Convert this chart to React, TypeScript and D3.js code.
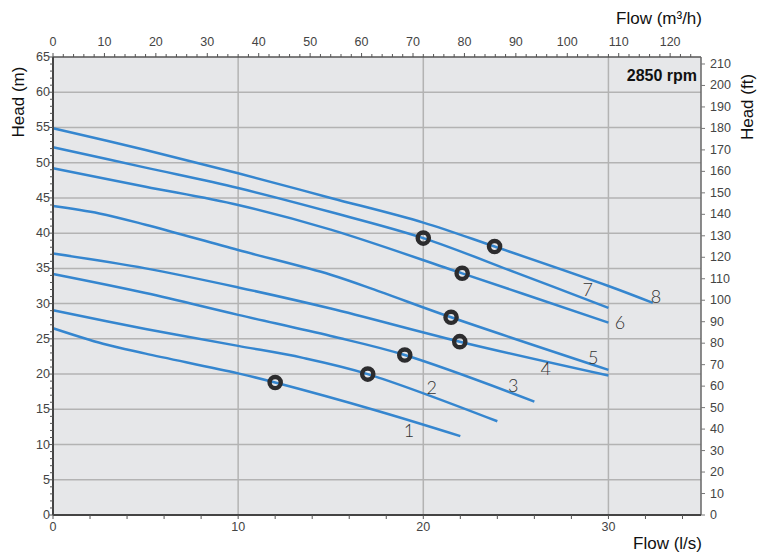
import React from "react";
import * as d3 from "d3";

const curveNames = ["1", "2", "3", "4", "5", "6", "7", "8"];
const flow1 = [0, 2.7, 5, 10, 12, 17.5, 22];
const head1 = [26.5, 24.3, 22.9, 20.1, 18.8, 14.8, 11.2];
const flow2 = [0, 5, 10, 13.5, 17, 24];
const head2 = [29.05, 26.4, 24.0, 22.3, 20.0, 13.3];
const flow3 = [0, 5, 10, 15, 19, 26];
const head3 = [34.2, 31.5, 28.4, 25.4, 22.7, 16.1];
const flow4 = [0, 5, 10, 15, 21.97, 30];
const head4 = [37.1, 35.0, 32.3, 29.3, 24.6, 19.8];
const flow5 = [0, 2.5, 5, 10, 15, 17.65, 21.5, 30];
const head5 = [43.85, 42.8, 41.2, 37.6, 34.1, 31.7, 28.06, 20.6];
const flow6 = [0, 5, 10, 15, 22.1, 30];
const head6 = [49.2, 46.6, 44.0, 40.5, 34.3, 27.3];
const flow7 = [0, 5, 10, 15, 20, 25, 30];
const head7 = [52.2, 49.3, 46.4, 43.0, 39.3, 34.4, 29.4];
const flow8 = [0, 5, 10, 15, 20, 23.85, 30, 32.4];
const head8 = [54.9, 51.8, 48.5, 45.0, 41.5, 38.1, 32.5, 30.1];

const curveFlows = [flow1, flow2, flow3, flow4, flow5, flow6, flow7, flow8];
const curveHeads = [head1, head2, head3, head4, head5, head6, head7, head8];

const dutyFlow = [12.0, 17.0, 19.0, 21.97, 21.5, 22.1, 20.0, 23.85];
const dutyHead = [18.8, 20.0, 22.7, 24.6, 28.06, 34.3, 39.3, 38.1];

const labelFlow = [19.23, 20.45, 24.86, 26.61, 29.18, 30.63, 28.88, 32.57];
const labelHead = [12.06, 18.21, 18.45, 20.82, 22.47, 27.43, 32.03, 31.12];

const flowMax = 35;
const headMax = 65;
const M3H_PER_LS = 3.6;
const FT_PER_M = 3.28084;
const bottomTicks = d3.range(0, 36, 2);
const bottomLabels = [0, 10, 20, 30];
const topTicks = d3.range(0, 126, 2);
const topLabels = d3.range(0, 121, 10);
const leftMinor = d3.range(0, 66, 1);
const leftLabels = d3.range(0, 66, 5);
const rightLabels = d3.range(0, 211, 10);
const vGrid = [10, 20, 30];
const hGrid = d3.range(5, 61, 5);

const L = 53, R = 701, T = 57, B = 515;

export default function App() {
  const x = d3.scaleLinear().domain([0, flowMax]).range([L, R]);
  const y = d3.scaleLinear().domain([0, headMax]).range([B, T]);
  const xTop = d3.scaleLinear().domain([0, flowMax * M3H_PER_LS]).range([L, R]);
  const yFt = d3.scaleLinear().domain([0, headMax * FT_PER_M]).range([B, T]);

  const line = d3
    .line<[number, number]>()
    .x((d) => x(d[0]))
    .y((d) => y(d[1]))
    .curve(d3.curveCatmullRom.alpha(0.5));

  const tickFont = "Arial, 'Liberation Sans', sans-serif";
  const tickColor = "#444";

  return (
    <svg
      width={772}
      height={556}
      style={{ position: "absolute", left: 0, top: 0 }}
      fontFamily={tickFont}
    >
      <rect x={0} y={0} width={772} height={556} fill="#fff" />
      <rect x={L} y={T} width={R - L} height={B - T} fill="#e6e7e9" />
      {hGrid.map((h) => (
        <line key={"h" + h} x1={L} x2={R} y1={y(h)} y2={y(h)} stroke="#b3b3b3" strokeWidth={1.5} />
      ))}
      {vGrid.map((f) => (
        <line key={"v" + f} x1={x(f)} x2={x(f)} y1={T} y2={B} stroke="#b3b3b3" strokeWidth={1.5} />
      ))}

      {curveNames.map((n, i) => (
        <path
          key={"c" + n}
          d={line(curveFlows[i].map((f, j) => [f, curveHeads[i][j]] as [number, number])) || ""}
          fill="none"
          stroke="#3586cf"
          strokeWidth={2.5}
        />
      ))}

      {curveNames.map((n, i) => (
        <circle
          key={"m" + n}
          cx={x(dutyFlow[i])}
          cy={y(dutyHead[i])}
          r={5.6}
          fill="none"
          stroke="#2c2c2e"
          strokeWidth={4.4}
        />
      ))}

      {curveNames.map((n, i) => (
        <text
          key={"l" + n}
          x={x(labelFlow[i])}
          y={y(labelHead[i])}
          textAnchor="middle"
          dominantBaseline="central"
          fontFamily="Lato, 'DejaVu Sans', sans-serif"
          fontWeight={300}
          fontSize={18}
          fill="#333"
        >
          {n}
        </text>
      ))}

      {/* frame */}
      <line x1={L} x2={R} y1={T} y2={T} stroke="#555" strokeWidth={1.5} />
      <line x1={R} x2={R} y1={T} y2={B} stroke="#666" strokeWidth={1.5} />
      <line x1={L} x2={R} y1={B} y2={B} stroke="#444" strokeWidth={2} />
      <line x1={L} x2={L} y1={T} y2={B} stroke="#444" strokeWidth={2} />

      {/* bottom axis */}
      {bottomTicks.map((t) => (
        <line key={"bt" + t} x1={x(t)} x2={x(t)} y1={B} y2={B + 4} stroke="#555" strokeWidth={1} />
      ))}
      {bottomLabels.map((t) => (
        <text key={"bl" + t} x={x(t)} y={B + 12} textAnchor="middle" dominantBaseline="central" fontSize={12.5} fill={tickColor}>
          {t}
        </text>
      ))}

      {/* top axis */}
      {topTicks.map((t) => (
        <line key={"tt" + t} x1={xTop(t)} x2={xTop(t)} y1={T} y2={T - (t % 10 === 0 ? 4 : 3)} stroke="#555" strokeWidth={1} />
      ))}
      {topLabels.map((t) => (
        <text key={"tl" + t} x={xTop(t)} y={T - 15} textAnchor="middle" dominantBaseline="central" fontSize={12.5} fill={tickColor}>
          {t}
        </text>
      ))}

      {/* left axis */}
      {leftMinor.map((t) => (
        <line key={"lt" + t} x1={L} x2={L - (t % 5 === 0 ? 4 : 3)} y1={y(t)} y2={y(t)} stroke="#555" strokeWidth={1} />
      ))}
      {leftLabels.map((t) => (
        <text key={"ll" + t} x={L - 3} y={y(t)} textAnchor="end" dominantBaseline="central" fontSize={12.5} fill={tickColor}>
          {t}
        </text>
      ))}

      {/* right axis */}
      {rightLabels.map((t) => (
        <g key={"r" + t}>
          <line x1={R} x2={R + 4} y1={yFt(t)} y2={yFt(t)} stroke="#777" strokeWidth={1} />
          <text x={R + 9} y={yFt(t)} textAnchor="start" dominantBaseline="central" fontSize={12.5} fill={tickColor}>
            {t}
          </text>
        </g>
      ))}

      {/* titles */}
      <text x={697} y={75} textAnchor="end" dominantBaseline="central" fontSize={16} fontWeight="bold" fill="#111">
        2850 rpm
      </text>
      <text x={702} y={18} textAnchor="end" dominantBaseline="central" fontSize={17} fill="#111">
        Flow (m³/h)
      </text>
      <text x={702} y={543} textAnchor="end" dominantBaseline="central" fontSize={17} fill="#111">
        Flow (l/s)
      </text>
      <text
        transform="translate(18,102) rotate(-90)"
        textAnchor="middle"
        dominantBaseline="central"
        fontSize={17}
        fill="#111"
      >
        Head (m)
      </text>
      <text
        transform="translate(747,107) rotate(-90)"
        textAnchor="middle"
        dominantBaseline="central"
        fontSize={17}
        fill="#111"
      >
        Head (ft)
      </text>
    </svg>
  );
}
